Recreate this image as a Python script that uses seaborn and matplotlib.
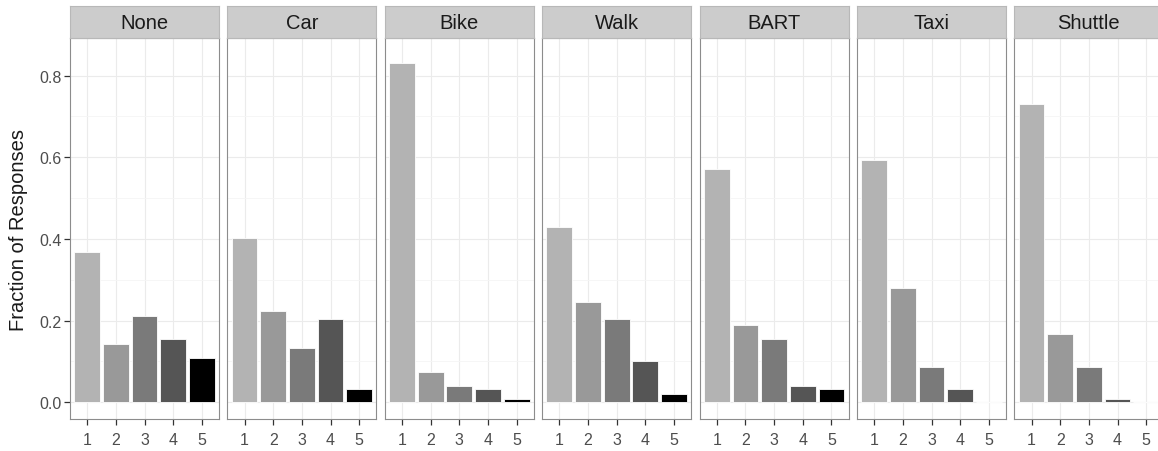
import matplotlib
matplotlib.use("Agg")
import matplotlib.pyplot as plt
import seaborn as sns
import pandas as pd
from matplotlib.ticker import MultipleLocator

# ---- data ----
modes = ["None", "Car", "Bike", "Walk", "BART", "Taxi", "Shuttle"]
ratings = ["1", "2", "3", "4", "5"]
none_vals = [0.368, 0.143, 0.211, 0.156, 0.109]
car_vals = [0.402, 0.224, 0.134, 0.203, 0.033]
bike_vals = [0.832, 0.075, 0.041, 0.033, 0.008]
walk_vals = [0.428, 0.245, 0.203, 0.101, 0.020]
bart_vals = [0.572, 0.190, 0.156, 0.041, 0.033]
taxi_vals = [0.593, 0.279, 0.087, 0.033, 0.0]
shuttle_vals = [0.730, 0.168, 0.087, 0.008, 0.0]
all_vals = [none_vals, car_vals, bike_vals, walk_vals, bart_vals, taxi_vals, shuttle_vals]
fill_colors = ["#B3B3B3", "#999999", "#7A7A7A", "#555555", "#000000"]
y_ticks = [0.0, 0.2, 0.4, 0.6, 0.8]
y_label = "Fraction of Responses"

rows = []
for m, vals in zip(modes, all_vals):
    for r, v in zip(ratings, vals):
        rows.append({"mode": m, "rating": r, "frac": v})
df = pd.DataFrame(rows)

sns.set_theme(style="white")
plt.rcParams["font.family"] = ["Liberation Sans", "DejaVu Sans"]

W, H = 1158, 452
fig = plt.figure(figsize=(W / 100, H / 100), dpi=100)

panel_left0 = 70
panel_step = 157.4
panel_w = 149
panel_top = 39
panel_bot = 420
strip_top = 7

for i, m in enumerate(modes):
    left = panel_left0 + i * panel_step
    ax = fig.add_axes([left / W, (H - panel_bot) / H, panel_w / W, (panel_bot - panel_top) / H])
    sub = df[df["mode"] == m]
    sns.barplot(data=sub, x="rating", y="frac", hue="rating", order=ratings,
                hue_order=ratings, palette=fill_colors, legend=False, ax=ax,
                width=0.9, edgecolor="white", linewidth=0.6, saturation=1)
    ax.set_xlim(-0.6, 4.6)
    ax.set_ylim(-0.041, 0.892)
    ax.set_yticks(y_ticks)
    ax.yaxis.set_minor_locator(MultipleLocator(0.1))
    ax.set_axisbelow(True)
    ax.grid(True, which="major", color="#EBEBEB", linewidth=0.8)
    ax.grid(True, which="minor", axis="y", color="#F5F5F5", linewidth=0.6)
    for s in ax.spines.values():
        s.set_visible(True)
        s.set_color("#8C8C8C")
        s.set_linewidth(0.8)
    ax.set_xlabel("")
    ax.set_ylabel("")
    ax.tick_params(axis="y", which="major", length=4, width=0.9, color="#333333",
                   labelsize=11.5, labelcolor="#4D4D4D", pad=2, left=(i == 0))
    ax.tick_params(axis="x", which="major", length=4.5, width=0.9, color="#333333",
                   labelsize=11.5, labelcolor="#4D4D4D", pad=5, bottom=True)
    ax.tick_params(axis="y", which="minor", length=0)
    ax.set_xticks(range(len(ratings)))
    ax.set_xticklabels(ratings)
    if i == 0:
        ax.set_yticklabels([f"{t:.1f}" for t in y_ticks])
    else:
        ax.set_yticklabels([])

    sax = fig.add_axes([left / W, (H - panel_top) / H, panel_w / W, (panel_top - strip_top) / H])
    sax.set_facecolor("#CCCCCC")
    sax.set_xticks([])
    sax.set_yticks([])
    for s in sax.spines.values():
        s.set_color("#B8B8B8")
        s.set_linewidth(0.8)
    sax.text(0.5, 0.48, m, ha="center", va="center", fontsize=14.5, color="#1A1A1A",
             transform=sax.transAxes)

fig.text(19 / W, (H - 230) / H, y_label, rotation=90, ha="center", va="center",
         fontsize=14.5, color="#1A1A1A")

fig.savefig("out.png", dpi=100, facecolor="white")
